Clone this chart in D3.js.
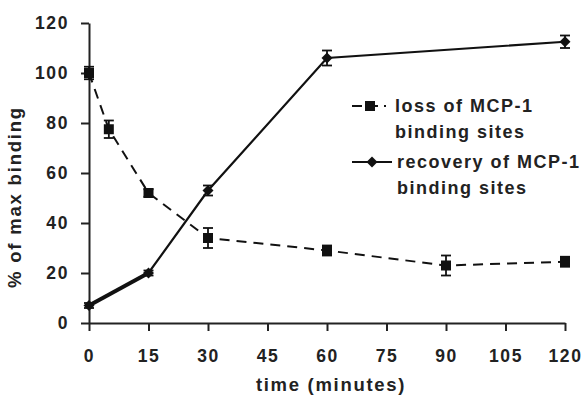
<!DOCTYPE html>
<html>
<head>
<meta charset="utf-8">
<script src="https://cdn.jsdelivr.net/npm/d3@7"></script>
<style>
  body { margin: 0; background: #fff; }
  text { font-family: "Liberation Sans", Arial, sans-serif; font-weight: bold; fill: #222; }
</style>
</head>
<body>
<svg id="chart" width="587" height="396"></svg>
<script>
// data
const lossTime = [0, 5, 15, 30, 60, 90, 120];
const lossValue = [100, 77.5, 52, 34, 29, 23, 24.5];
const lossErr = [2.5, 3.5, 1.5, 4, 2, 4, 2];

const recTime = [0, 15, 30, 60, 120];
const recValue = [7, 20, 53, 106, 112.5];
const recErr = [1, 1, 2, 3, 2.5];

const xTicks = [0, 15, 30, 45, 60, 75, 90, 105, 120];
const yTicks = [0, 20, 40, 60, 80, 100, 120];

const legendLabels = [["loss of MCP-1", "binding sites"], ["recovery of MCP-1", "binding sites"]];

const loss = lossTime.map((t, i) => ({t: t, v: lossValue[i], e: lossErr[i]}));
const rec = recTime.map((t, i) => ({t: t, v: recValue[i], e: recErr[i]}));

const svg = d3.select("#chart");
const x = d3.scaleLinear().domain([0, 120]).range([89, 565]);
const y = d3.scaleLinear().domain([0, 120]).range([323, 23]);

//axes
const xAxis = d3.axisBottom(x).tickValues(xTicks).tickSizeInner(8).tickSizeOuter(0).tickPadding(19);
const yAxis = d3.axisLeft(y).tickValues(yTicks).tickSizeInner(8).tickSizeOuter(0).tickPadding(12);

const gx = svg.append("g").attr("transform", `translate(0,${y(0)})`).call(xAxis);
const gy = svg.append("g").attr("transform", `translate(${x(0)},0)`).call(yAxis);
[gx, gy].forEach(g => {
  g.select(".domain").attr("stroke", "#222").attr("stroke-width", 2);
  g.selectAll(".tick line").attr("stroke", "#222").attr("stroke-width", 2);
  g.selectAll(".tick text").attr("font-size", 17.5).attr("font-family", "Liberation Sans, Arial, sans-serif")
    .attr("font-weight", "bold").attr("fill", "#222").style("letter-spacing", "1.6px");
});

svg.append("text").attr("x", 331).attr("y", 391).attr("text-anchor", "middle")
  .attr("font-size", 18.5).style("letter-spacing", "1.7px").text("time (minutes)");
svg.append("text").attr("transform", "translate(21,197) rotate(-90)").attr("text-anchor", "middle")
  .attr("font-size", 18.5).style("letter-spacing", "1.8px").text("% of max binding");

const line = d3.line().x(d => x(d.t)).y(d => y(d.v));

// loss curve, dashed
svg.append("path").datum(loss).attr("d", line).attr("fill", "none")
  .attr("stroke", "#111").attr("stroke-width", 2).attr("stroke-dasharray", "10,7");

// recovery curve, first segment is thicker
svg.append("path").datum(rec).attr("d", line).attr("fill", "none")
  .attr("stroke", "#111").attr("stroke-width", 2.2);
svg.append("path").datum(rec.slice(0, 2)).attr("d", line).attr("fill", "none")
  .attr("stroke", "#111").attr("stroke-width", 4);

function errorBars(data) {
  const g = svg.append("g").attr("stroke", "#111").attr("stroke-width", 1.8);
  data.forEach(d => {
    g.append("line").attr("x1", x(d.t)).attr("x2", x(d.t)).attr("y1", y(d.v - d.e)).attr("y2", y(d.v + d.e));
    g.append("line").attr("x1", x(d.t) - 5).attr("x2", x(d.t) + 5).attr("y1", y(d.v - d.e)).attr("y2", y(d.v - d.e));
    g.append("line").attr("x1", x(d.t) - 5).attr("x2", x(d.t) + 5).attr("y1", y(d.v + d.e)).attr("y2", y(d.v + d.e));
  });
}
errorBars(loss);
errorBars(rec);

const square = d3.symbol().type(d3.symbolSquare).size(100);
const diamond = d3.symbol().type(d3.symbolSquare).size(60);

svg.selectAll(".sq").data(loss).enter().append("path").attr("class", "sq")
  .attr("d", square).attr("transform", d => `translate(${x(d.t)},${y(d.v)})`).attr("fill", "#111");
svg.selectAll(".dm").data(rec).enter().append("path").attr("class", "dm")
  .attr("d", diamond).attr("transform", d => `translate(${x(d.t)},${y(d.v)}) rotate(45)`).attr("fill", "#111");

// legend
const leg = [{y: 106, dash: "10,6", sym: square, rot: 0}, {y: 162, dash: null, sym: diamond, rot: 45}];
leg.forEach((l, i) => {
  svg.append("line").attr("x1", 352).attr("x2", i === 0 ? 386 : 392).attr("y1", l.y).attr("y2", l.y)
    .attr("stroke", "#111").attr("stroke-width", 2).attr("stroke-dasharray", l.dash);
  svg.append("path").attr("d", l.sym).attr("transform", `translate(${i === 0 ? 370 : 372},${l.y}) rotate(${l.rot})`).attr("fill", "#111");
  legendLabels[i].forEach((s, j) => {
    svg.append("text").attr("x", i === 0 ? 395 : 397).attr("y", l.y + 6 + j * 26)
      .attr("font-size", 18).style("letter-spacing", "1.5px").text(s);
  });
});
</script>
</body>
</html>
